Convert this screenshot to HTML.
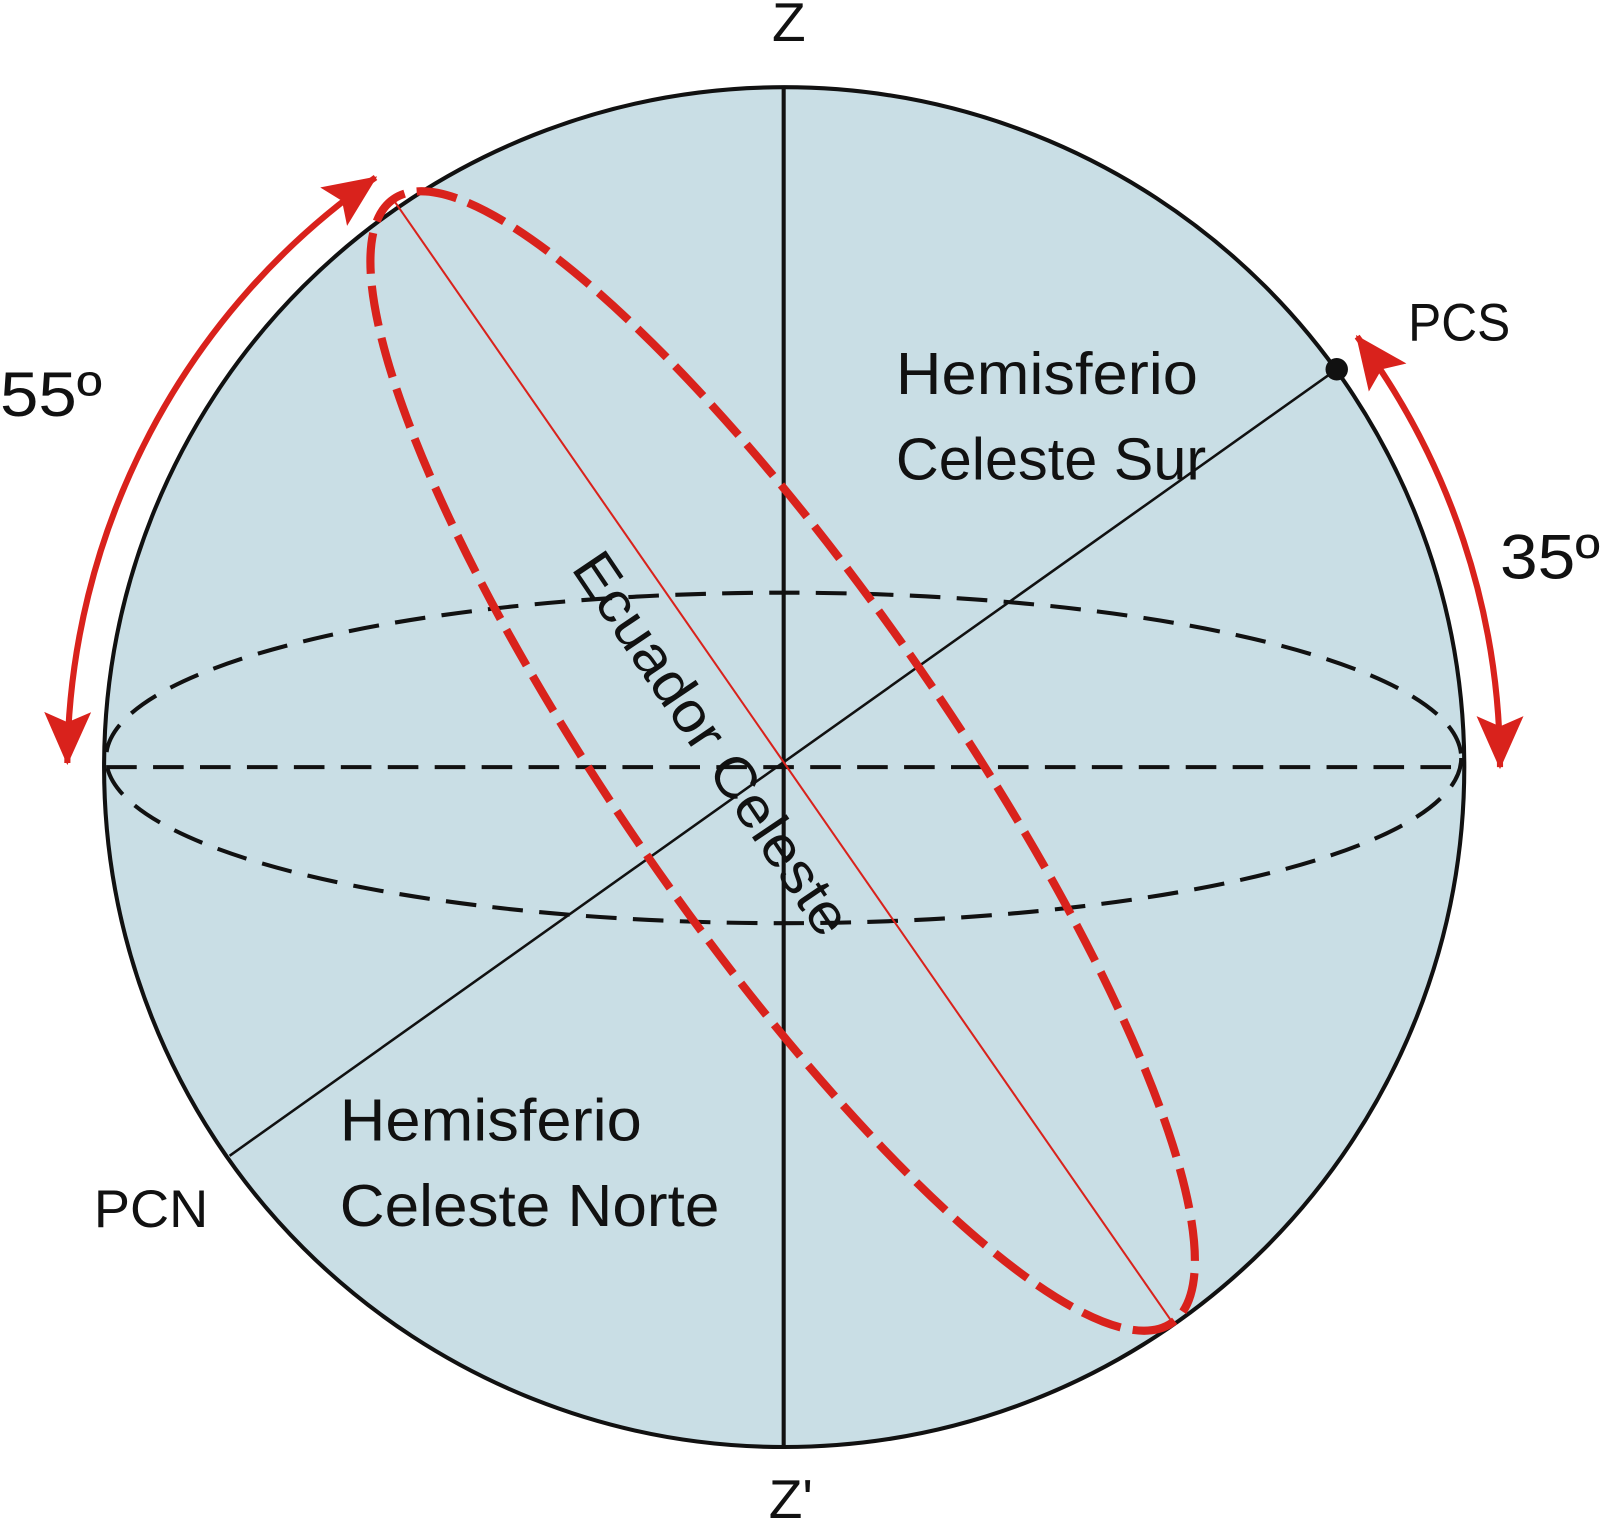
<!DOCTYPE html>
<html><head><meta charset="utf-8"><style>html,body{margin:0;padding:0;background:#fff}svg{display:block}</style></head>
<body>
<svg width="1600" height="1522" viewBox="0 0 1568 1492" preserveAspectRatio="none" xmlns="http://www.w3.org/2000/svg">
<defs>
<marker id="ah" viewBox="0 0 52 46" refX="50" refY="23" markerWidth="52" markerHeight="46" markerUnits="userSpaceOnUse" orient="auto-start-reverse">
<path d="M0 0 L52 23 L0 46 L10 23 Z" fill="#d9221c"/>
</marker>
</defs>
<circle cx="768.5" cy="752" r="666.5" fill="#c9dee5" stroke="#111" stroke-width="4"/>
<ellipse cx="768" cy="743" rx="664" ry="162" fill="none" stroke="#111" stroke-width="4" stroke-dasharray="30 16"/>
<line x1="104" y1="752" x2="1433" y2="752" stroke="#111" stroke-width="4" stroke-dasharray="30 16"/>
<line x1="768" y1="86" x2="768" y2="1419" stroke="#111" stroke-width="4"/>
<line x1="225" y1="1133" x2="1310" y2="362" stroke="#111" stroke-width="2.5"/>
<circle cx="1310" cy="362" r="11" fill="#111"/>
<line x1="385" y1="195" x2="1148" y2="1295" stroke="#d9221c" stroke-width="2"/>
<ellipse cx="767" cy="746" rx="670" ry="162" transform="rotate(55.3 767 746)" fill="none" stroke="#d9221c" stroke-width="8" stroke-dasharray="40 12"/>
<path d="M 66 748 A 705 705 0 0 1 368 174" fill="none" stroke="#d9221c" stroke-width="6" marker-start="url(#ah)" marker-end="url(#ah)"/>
<path d="M 1330 330 A 705 705 0 0 1 1470 752" fill="none" stroke="#d9221c" stroke-width="6" marker-start="url(#ah)" marker-end="url(#ah)"/>
<g font-family="Liberation Sans, sans-serif" fill="#111">
<text x="773" y="40" font-size="54" text-anchor="middle">Z</text>
<text x="775" y="1488" font-size="54" text-anchor="middle">Z'</text>
<text x="0" y="408" font-size="62" textLength="100" lengthAdjust="spacingAndGlyphs">55º</text>
<text x="1470" y="567" font-size="62" textLength="98" lengthAdjust="spacingAndGlyphs">35º</text>
<text x="1380" y="334" font-size="52" textLength="100" lengthAdjust="spacingAndGlyphs">PCS</text>
<text x="92" y="1203" font-size="52" textLength="112" lengthAdjust="spacingAndGlyphs">PCN</text>
<text x="878" y="386" font-size="58" textLength="296" lengthAdjust="spacingAndGlyphs">Hemisferio</text>
<text x="878" y="470" font-size="58" textLength="304" lengthAdjust="spacingAndGlyphs">Celeste Sur</text>
<text x="333" y="1118" font-size="58" textLength="296" lengthAdjust="spacingAndGlyphs">Hemisferio</text>
<text x="333" y="1202" font-size="58" textLength="372" lengthAdjust="spacingAndGlyphs">Celeste Norte</text>
<text x="0" y="0" font-size="56" textLength="440" lengthAdjust="spacingAndGlyphs" transform="translate(559 557) rotate(56)">Ecuador Celeste</text>
</g>
</svg>
</body></html>
